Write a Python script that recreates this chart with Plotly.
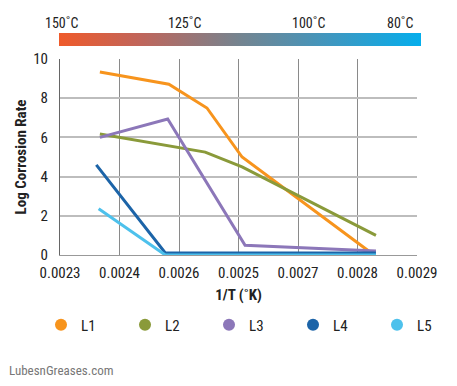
import base64
import plotly.graph_objects as go

# ---- data ----
series_names = ["L1", "L2", "L3", "L4", "L5"]
series_colors = ["#F7941D", "#8A9A3A", "#8C77B9", "#1C64A8", "#4DC1EC"]
series_legend = ["legend", "legend", "legend", "legend2", "legend2"]

l1_x = [0.002367, 0.002483, 0.002547, 0.002606, 0.002821]
l1_y = [9.34, 8.71, 7.50, 5.00, 0.15]

l2_x = [0.002367, 0.002544, 0.002606, 0.002831]
l2_y = [6.17, 5.25, 4.50, 1.00]

l3_x = [0.002367, 0.002481, 0.002611, 0.002831]
l3_y = [6.00, 6.94, 0.50, 0.20]

l4_x = [0.002361, 0.002477, 0.002831]
l4_y = [4.60, 0.10, 0.10]

l5_x = [0.002365, 0.002477, 0.002831]
l5_y = [2.36, 0.00, 0.00]

x_tickvals = [0.0023, 0.0024, 0.0025, 0.0026, 0.0027, 0.0028, 0.0029]
x_ticktext = ["0.0023", "0.0024", "0.0026", "0.0025", "0.0027", "0.0028", "0.0029"]
y_tickvals = [0, 2, 4, 6, 8, 10]

temp_labels = ["150˚C", "125˚C", "100˚C", "80˚C"]
temp_label_pos = [0.003, 0.350, 0.697, 0.955]

FONT = "Roboto Condensed, Roboto, DejaVu Sans Condensed, sans-serif"

# plot area geometry (px) used to place paper-referenced decorations
PL, PW, PT, PH = 60, 357, 59, 196   # plot left, width, top, height (reference px)
OFF = 8                              # page body margin offset


def px_x(p):
    return (p - PL) / PW


def px_y(p):
    return (PT + PH - p) / PH


xs = [l1_x, l2_x, l3_x, l4_x, l5_x]
ys = [l1_y, l2_y, l3_y, l4_y, l5_y]

fig = go.Figure()

for name, color, x, y in zip(series_names, series_colors, xs, ys):
    fig.add_trace(go.Scatter(x=x, y=y, mode="lines", name=name,
                             line=dict(color=color, width=3),
                             showlegend=False, hoverinfo="x+y+name"))

for name, color, lg in zip(series_names, series_colors, series_legend):
    fig.add_trace(go.Scatter(x=[None], y=[None], mode="markers", name=name,
                             marker=dict(color=color, size=14, symbol="circle"),
                             showlegend=True, legend=lg))

# temperature gradient bar as an SVG image
svg = ("<svg xmlns='http://www.w3.org/2000/svg' width='362' height='14' "
       "preserveAspectRatio='none' viewBox='0 0 362 14'>"
       "<defs><linearGradient id='g' x1='0' y1='0' x2='1' y2='0'>"
       "<stop offset='0' stop-color='#EF5A2A'/>"
       "<stop offset='0.22' stop-color='#C1655A'/>"
       "<stop offset='0.5' stop-color='#748490'/>"
       "<stop offset='0.75' stop-color='#3F97C0'/>"
       "<stop offset='1' stop-color='#05AEEC'/>"
       "</linearGradient></defs>"
       "<rect x='0' y='0' width='362' height='14' fill='url(#g)'/></svg>")
svg_uri = "data:image/svg+xml;base64," + base64.b64encode(svg.encode()).decode()

fig.add_layout_image(dict(source=svg_uri, xref="paper", yref="paper",
                          x=px_x(59), y=px_y(33), sizex=362 / PW, sizey=13 / PH,
                          xanchor="left", yanchor="top", sizing="stretch",
                          layer="above"))

annotations = []
for t, px in zip(temp_labels, temp_label_pos):
    annotations.append(dict(text=t, x=px, y=px_y(23), xref="paper", yref="paper",
                            xanchor="center", yanchor="middle", showarrow=False,
                            font=dict(family=FONT, size=14, color="#222")))
annotations.append(dict(text="LubesnGreases.com", xref="paper", yref="paper",
                        x=px_x(7), y=px_y(370),
                        xanchor="left", yanchor="middle", showarrow=False,
                        font=dict(family=FONT, size=13, color="#777")))

legend_common = dict(orientation="h", xanchor="left",
                     y=px_y(325), yanchor="middle",
                     entrywidth=39, entrywidthmode="pixels",
                     font=dict(family=FONT, size=15, color="#222"),
                     itemsizing="constant", bgcolor="rgba(0,0,0,0)")

fig.update_layout(
    width=457, height=386,
    margin=dict(l=PL - OFF, r=457 - PL - PW + OFF, t=PT - OFF,
                b=386 - PT - PH + OFF, autoexpand=False),
    paper_bgcolor="white", plot_bgcolor="white",
    font=dict(family=FONT, size=15, color="#222"),
    annotations=annotations,
    legend=dict(x=px_x(41), **legend_common),
    legend2=dict(x=px_x(41 + 3 * 84), **legend_common),
    xaxis=dict(range=[0.0023, 0.0029], tickvals=x_tickvals, ticktext=x_ticktext,
               showgrid=True, gridcolor="#8a8a8a", gridwidth=1,
               zeroline=False, showline=True, linecolor="#999", linewidth=1,
               mirror=False, ticks="outside", ticklen=4, tickcolor="rgba(0,0,0,0)",
               automargin=False,
               tickfont=dict(family=FONT, size=15, color="#222"),
               title=dict(text="<b>1/T (˚K)</b>", standoff=8,
                          font=dict(family=FONT, size=15, color="#222"))),
    yaxis=dict(range=[0, 10], tickvals=y_tickvals,
               showgrid=True, gridcolor="#bdbdbd", gridwidth=2,
               zeroline=False, showline=True, linecolor="#666", linewidth=1,
               ticks="outside", ticklen=8, tickcolor="rgba(0,0,0,0)",
               automargin=False,
               tickfont=dict(family=FONT, size=15, color="#222"),
               title=dict(text="<b>Log Corrosion Rate</b>", standoff=2,
                          font=dict(family=FONT, size=15, color="#222"))),
)

fig.write_html("out.html")
